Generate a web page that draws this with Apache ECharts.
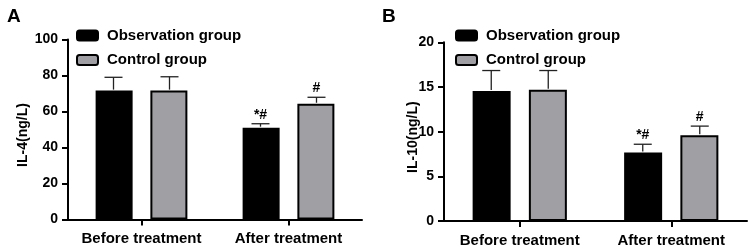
<!DOCTYPE html>
<html><head><meta charset="utf-8">
<script src="https://cdn.jsdelivr.net/npm/echarts@6/dist/echarts.min.js"></script>
<style>html,body{margin:0;padding:0;background:#fff}#c{width:750px;height:248px}</style>
</head><body><div id="c"></div>
<script>
const categories = ['Before treatment', 'After treatment'];
const seriesNames = ['Observation group', 'Control group'];
// Panel A: IL-4 (ng/L)
const il4Obs = [71.6, 51.0];
const il4ObsSD = [7.4, 2.2];
const il4Ctrl = [71.6, 64.3];
const il4CtrlSD = [7.7, 3.6];
const il4ObsMarks = ['', '*#'];
const il4CtrlMarks = ['', '#'];
// Panel B: IL-10 (ng/L)
const il10Obs = [14.56, 7.67];
const il10ObsSD = [2.28, 0.92];
const il10Ctrl = [14.7, 9.59];
const il10CtrlSD = [2.14, 1.03];
const il10ObsMarks = ['', '*#'];
const il10CtrlMarks = ['', '#'];

const FONT = 'Liberation Sans, Arial, sans-serif';
const obsColor = '#000000';
const ctrlColor = '#a0a0a4';

function errSeries(id, axisIdx, means, sds, marks, offset) {
  return {
    type: 'custom', name: id, xAxisIndex: axisIdx, yAxisIndex: axisIdx, z: 5, silent: true,
    data: means.map((m, i) => [i, m, sds[i]]),
    renderItem: function (params, api) {
      const i = api.value(0), m = api.value(1), s = api.value(2);
      const b = api.coord([i, m]);
      const t = api.coord([i, m + s]);
      const x = b[0] + offset;
      const ls = { stroke: '#222', lineWidth: 1.3 };
      const children = [
        { type: 'line', shape: { x1: x, y1: b[1] - 1, x2: x, y2: t[1] }, style: ls },
        { type: 'line', shape: { x1: x - 9, y1: t[1], x2: x + 9, y2: t[1] }, style: ls }
      ];
      const mk = marks[params.dataIndex];
      if (mk) {
        children.push({ type: 'text', style: { text: mk, x: x, y: t[1] - 2, align: 'center', verticalAlign: 'bottom',
          font: 'bold 14px ' + FONT, fill: '#000' } });
      }
      return { type: 'group', children: children };
    }
  };
}

function barSeries(name, axisIdx, data, color, bw) {
  return {
    type: 'bar', name: name, xAxisIndex: axisIdx, yAxisIndex: axisIdx, data: data,
    barWidth: bw, barGap: '48%',
    itemStyle: { color: color, borderColor: '#000', borderWidth: 2 }
  };
}

const axisLine = { show: true, lineStyle: { color: '#000', width: 2 } };
const axisTick = { show: true, length: 6, lineStyle: { color: '#000', width: 2 } };
const labelStyle = { color: '#000', fontWeight: 'bold', fontFamily: FONT };

function xAxis(gridIndex) {
  return {
    type: 'category', gridIndex: gridIndex, data: categories,
    axisLine: axisLine, axisTick: Object.assign({ alignWithLabel: true }, axisTick),
    axisLabel: Object.assign({ fontSize: 15, margin: 12, interval: 0 }, labelStyle)
  };
}
function yAxis(gridIndex, max, interval, name, gap) {
  return {
    type: 'value', gridIndex: gridIndex, min: 0, max: max, interval: interval,
    name: name, nameLocation: 'middle', nameGap: gap, nameMoveOverlap: false,
    nameTextStyle: Object.assign({ fontSize: 14, padding: [0, 11, 0, 0] }, labelStyle),
    axisLine: axisLine, axisTick: axisTick, splitLine: { show: false },
    axisLabel: Object.assign({ fontSize: 14, margin: 10 }, labelStyle)
  };
}
function legend(left, top) {
  return {
    data: seriesNames, left: left, top: top, orient: 'vertical', icon: 'roundRect',
    itemWidth: 21, itemHeight: 10, itemGap: 9.5,
    textStyle: Object.assign({ fontSize: 15, padding: [0, 0, 0, 4] }, labelStyle)
  };
}

const chart = echarts.init(document.getElementById('c'), null, { renderer: 'canvas' });
chart.setOption({
  animation: false,
  title: [
    { text: 'A', left: 2, top: 2, textStyle: { fontSize: 19, fontWeight: 'bold', fontFamily: FONT, color: '#000' } },
    { text: 'B', left: 377, top: 2, textStyle: { fontSize: 19, fontWeight: 'bold', fontFamily: FONT, color: '#000' } }
  ],
  legend: [legend(71, 23), legend(450, 23)],
  grid: [
    { left: 68, right: 388, top: 39.5, bottom: 28.5 },
    { left: 444, right: 3, top: 42.3, bottom: 25.7 }
  ],
  xAxis: [xAxis(0), xAxis(1)],
  yAxis: [yAxis(0, 100, 20, 'IL-4(ng/L)', 38), yAxis(1, 20, 5, 'IL-10(ng/L)', 24)],
  series: [
    barSeries(seriesNames[0], 0, il4Obs, obsColor, 37),
    barSeries(seriesNames[1], 0, il4Ctrl, ctrlColor, 37),
    barSeries(seriesNames[0], 1, il10Obs, obsColor, 38),
    barSeries(seriesNames[1], 1, il10Ctrl, ctrlColor, 38),
    errSeries('eA1', 0, il4Obs, il4ObsSD, il4ObsMarks, -28),
    errSeries('eA2', 0, il4Ctrl, il4CtrlSD, il4CtrlMarks, 28),
    errSeries('eB1', 1, il10Obs, il10ObsSD, il10ObsMarks, -28.5),
    errSeries('eB2', 1, il10Ctrl, il10CtrlSD, il10CtrlMarks, 28.5)
  ]
});
</script></body></html>
